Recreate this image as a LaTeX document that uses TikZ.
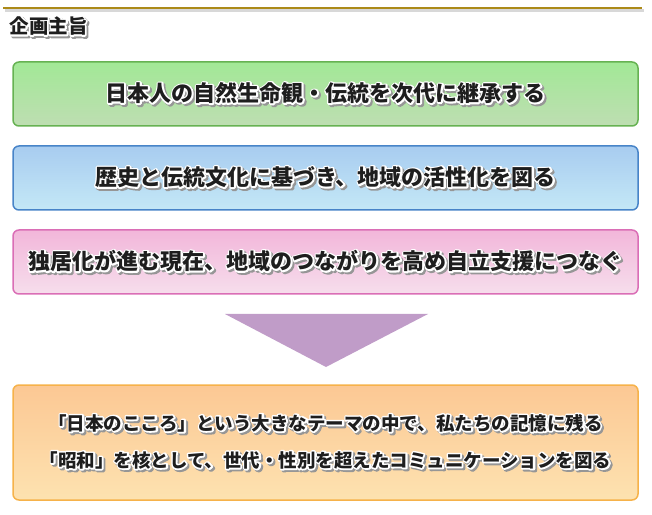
\documentclass[tikz,border=0pt]{standalone}
\usepackage{fontspec}
\setmainfont{Noto Sans CJK JP}
\usepackage{tikz}
\usetikzlibrary{positioning}
\usepackage{xcolor}
\definecolor{ruleline}{RGB}{172, 138, 24}
\definecolor{ruleshadow}{RGB}{190, 190, 190}
\definecolor{greentop}{RGB}{162, 232, 150}
\definecolor{greenbottom}{RGB}{190, 222, 178}
\definecolor{greenborder}{RGB}{102, 178, 82}
\definecolor{bluetop}{RGB}{168, 204, 240}
\definecolor{bluebottom}{RGB}{196, 232, 246}
\definecolor{blueborder}{RGB}{72, 132, 200}
\definecolor{pinktop}{RGB}{242, 182, 218}
\definecolor{pinkbottom}{RGB}{246, 222, 236}
\definecolor{pinkborder}{RGB}{218, 110, 182}
\definecolor{orangetop}{RGB}{252, 200, 148}
\definecolor{orangebottom}{RGB}{253, 226, 176}
\definecolor{orangeborder}{RGB}{246, 178, 74}
\definecolor{arrowpurple}{RGB}{192, 156, 200}
\definecolor{textdark}{RGB}{30, 30, 30}
\definecolor{textshadow}{RGB}{150, 150, 150}
% text with white halo and soft shadow (stroked copies)
\newcommand{\strokemode}[1]{\special{pdf:literal direct #1}}
\newcommand{\glowtext}[1]{%
  \rlap{\kern1.8pt\raisebox{-1.8pt}{\color{textshadow}\strokemode{2 Tr 3.4 w 1 J 1 j}#1\strokemode{0 Tr}}}%
  \rlap{\strokemode{1 Tr 3.2 w 1 J 1 j 1 1 1 RG}#1\strokemode{0 Tr}}%
  #1}

\begin{document}
\begin{tikzpicture}[x=1pt, y=1pt,
  aimbox/.style={rounded corners=6pt, line width=1.5pt, minimum width=625pt,
    minimum height=64pt, text=textdark, font=\bfseries\fontsize{22}{26}\selectfont}]

  \useasboundingbox (0,0) rectangle (652,514);

  % ---------- Title rule ----------
  \draw[ruleshadow, line width=3pt, opacity=0.6] (5,503.5) -- (644,503.5);
  \draw[ruleline, line width=1.3pt] (3,506) -- (642,506);
  \node[anchor=west, text=textdark, font=\bfseries\fontsize{19.5}{22}\selectfont]
    (title) at (6,487) {\glowtext{企画主旨}};

  % ---------- Aims ----------
  \node[aimbox, draw=greenborder, top color=greentop, bottom color=greenbottom]
    (aim1) at (325.5,420) {\glowtext{日本人の自然生命観・伝統を次代に継承する}};
  \node[aimbox, draw=blueborder, top color=bluetop, bottom color=bluebottom]
    (aim2) at (325.5,336) {\glowtext{歴史と伝統文化に基づき、地域の活性化を図る}};
  \node[aimbox, draw=pinkborder, top color=pinktop, bottom color=pinkbottom]
    (aim3) at (325.5,252) {\glowtext{独居化が進む現在、地域のつながりを高め自立支援につなぐ}};

  % ---------- Arrow ----------
  \fill[arrowpurple] (225,200) -- (428,200) -- (326,147) -- cycle;

  % ---------- Result ----------
  \node[aimbox, draw=orangeborder, top color=orangetop, bottom color=orangebottom,
    minimum height=115pt, align=center, font=\bfseries\fontsize{18.5}{37}\selectfont]
    (result) at (325.5,71.5)
    {\glowtext{「日本のこころ」という大きなテーマの中で、私たちの記憶に残る}\\
     \glowtext{「昭和」を核として、世代・性別を超えたコミュニケーションを図る}};

\end{tikzpicture}
\end{document}
